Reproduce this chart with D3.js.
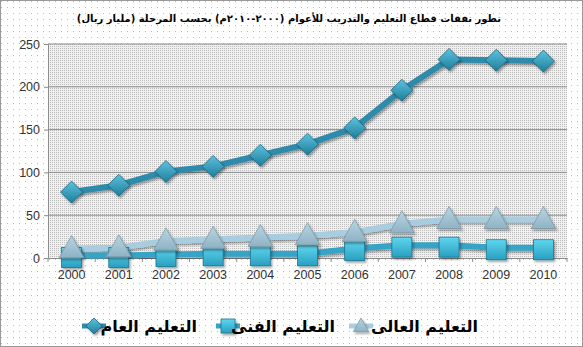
<!DOCTYPE html>
<html><head><meta charset="utf-8">
<script src="https://cdn.jsdelivr.net/npm/d3@7"></script>
<style>body{margin:0;background:#fff}svg{display:block}</style>
</head><body>
<svg id="c" width="583" height="347"></svg>
<script>
const years = ["2000","2001","2002","2003","2004","2005","2006","2007","2008","2009","2010"];
const general = [77, 85, 101, 107, 120, 133, 152, 196, 232, 231, 230];
const technical = [3, 3, 4, 5, 5, 5, 11, 15, 15, 12, 12];
const higher = [11, 12, 20, 22, 24, 26, 30, 40, 45, 45, 45];
const yTicks = [0, 50, 100, 150, 200, 250];
const seriesNames = ["التعليم العام", "التعليم الفنى", "التعليم العالى"];
const title = "تطور نفقات قطاع التعليم والتدريب للأعوام (٢٠٠٠-٢٠١٠م) بحسب المرحلة (مليار ريال)";

const svg = d3.select("#c");
const W = 583, H = 347;
const m = {l: 48, r: 16, t: 44, b: 89};
const defs = svg.append("defs");
const p1 = defs.append("pattern").attr("id","dots").attr("width",6).attr("height",6).attr("patternUnits","userSpaceOnUse");
p1.append("rect").attr("width",6).attr("height",6).attr("fill","#fff");
p1.append("rect").attr("x",1).attr("y",1).attr("width",1).attr("height",1).attr("fill","#bbb");
const p2 = defs.append("pattern").attr("id","dots2").attr("width",2).attr("height",2).attr("patternUnits","userSpaceOnUse");
p2.append("rect").attr("width",2).attr("height",2).attr("fill","#f0f0f0");
p2.append("rect").attr("width",1).attr("height",1).attr("fill","#bdbdbd");

svg.append("rect").attr("x",0.5).attr("y",0.5).attr("width",W-1).attr("height",H-1).attr("fill","url(#dots)").attr("stroke","#999");

const x = d3.scaleBand().domain(years).range([m.l, W - m.r]);
const y = d3.scaleLinear().domain([0,250]).range([H - m.b, m.t]);

svg.append("rect").attr("x",m.l).attr("y",m.t).attr("width",W-m.r-m.l).attr("height",H-m.b-m.t).attr("fill","url(#dots2)");

// grid
svg.append("g").selectAll("line").data(yTicks.filter(d=>d>0)).join("line")
  .attr("x1",m.l).attr("x2",W-m.r).attr("y1",d=>y(d)).attr("y2",d=>y(d))
  .attr("stroke","#8c8c8c").attr("stroke-width",1);

// axes
const ya = svg.append("g").attr("transform",`translate(${m.l},0)`)
  .call(d3.axisLeft(y).tickValues(yTicks).tickSize(4).tickPadding(4));
ya.select(".domain").attr("stroke","#8c8c8c");
ya.selectAll(".tick line").attr("stroke","#8c8c8c");
ya.selectAll("text").attr("font-family","Liberation Sans, Arial, sans-serif").attr("font-size",12.5).attr("fill","#333");

const xa = svg.append("g").attr("transform",`translate(0,${y(0)})`)
  .call(d3.axisBottom(x).tickSize(0).tickPadding(12));
xa.select(".domain").attr("stroke","#8c8c8c");
xa.selectAll("text").attr("font-family","Liberation Sans, Arial, sans-serif").attr("font-size",12.5).attr("fill","#333");
svg.append("g").selectAll("line").data(years.concat(["end"])).join("line")
  .attr("x1",(d,i)=>m.l + i*x.step()).attr("x2",(d,i)=>m.l + i*x.step())
  .attr("y1",y(0)).attr("y2",y(0)+4).attr("stroke","#8c8c8c");

const cx = d => x(d) + x.bandwidth()/2;
const line = d3.line().x((d,i)=>cx(years[i])).y(d=>y(d));

// shadow filter
const f = defs.append("filter").attr("id","sh").attr("x","-30%").attr("y","-30%").attr("width","160%").attr("height","160%");
f.append("feDropShadow").attr("dx",1.5).attr("dy",2).attr("stdDeviation",1.2).attr("flood-color","#000").attr("flood-opacity",0.35);

// higher
svg.append("path").datum(higher).attr("d",line).attr("fill","none").attr("stroke","#a9cde0").attr("stroke-width",6).attr("filter","url(#sh)");
// technical
svg.append("path").datum(technical).attr("d",line).attr("fill","none").attr("stroke","#35a4c6").attr("stroke-width",6).attr("filter","url(#sh)");
// general
svg.append("path").datum(general).attr("d",line).attr("fill","none").attr("stroke","#2f8bab").attr("stroke-width",6).attr("filter","url(#sh)");

// markers
const gDefs = defs.append("linearGradient").attr("id","gd").attr("x1",0).attr("y1",0).attr("x2",0).attr("y2",1);
gDefs.append("stop").attr("offset","0").attr("stop-color","#5cc3dd");
gDefs.append("stop").attr("offset","1").attr("stop-color","#1f7d9c");
const gs = defs.append("linearGradient").attr("id","gs").attr("x1",0).attr("y1",0).attr("x2",0).attr("y2",1);
gs.append("stop").attr("offset","0").attr("stop-color","#5fd6ef");
gs.append("stop").attr("offset","1").attr("stop-color","#2a9fc0");
const gt = defs.append("linearGradient").attr("id","gt").attr("x1",0).attr("y1",0).attr("x2",0).attr("y2",1);
gt.append("stop").attr("offset","0").attr("stop-color","#b8d6e4");
gt.append("stop").attr("offset","1").attr("stop-color","#8fb2c3");

function tri(g, X, Y, s){ g.append("path").attr("d",`M${X},${Y-s}L${X+s*0.95},${Y+s*0.7}L${X-s*0.95},${Y+s*0.7}Z`)
  .attr("fill","url(#gt)").attr("stroke","#7e9aa8").attr("stroke-width",0.8).attr("filter","url(#sh)"); }
function sq(g, X, Y, s){ g.append("rect").attr("x",X-s).attr("y",Y-s).attr("width",2*s).attr("height",2*s)
  .attr("fill","url(#gs)").attr("stroke","#1f7590").attr("stroke-width",0.8).attr("filter","url(#sh)"); }
function dia(g, X, Y, s){ g.append("path").attr("d",`M${X},${Y-s}L${X+s},${Y}L${X},${Y+s}L${X-s},${Y}Z`)
  .attr("fill","url(#gd)").attr("stroke","#1b6680").attr("stroke-width",0.8).attr("filter","url(#sh)"); }

const mk = svg.append("g");
technical.forEach((v,i)=>sq(mk, cx(years[i]), y(v)+2, 10));
higher.forEach((v,i)=>tri(mk, cx(years[i]), y(v), 13));
general.forEach((v,i)=>dia(mk, cx(years[i]), y(v), 11));

// title
svg.append("text").attr("x",289).attr("y",22).attr("text-anchor","middle").attr("direction","rtl")
  .attr("font-family","DejaVu Sans, sans-serif").attr("font-weight","bold").attr("font-size",10).attr("fill","#000")
  .text(title);

// legend
const leg = svg.append("g");
const items = [
  {name: seriesNames[0], tx: 197, mx: 94, color:"#2f8bab", f: dia, s: 8},
  {name: seriesNames[1], tx: 335, mx: 228, color:"#35a4c6", f: sq, s: 7},
  {name: seriesNames[2], tx: 478, mx: 361, color:"#a9cde0", f: tri, s: 8}
];
items.forEach(it=>{
  leg.append("line").attr("x1",it.mx-12).attr("x2",it.mx+12).attr("y1",326).attr("y2",326).attr("stroke",it.color).attr("stroke-width",5);
  it.f(leg, it.mx, 326, it.s);
  leg.append("text").attr("x",it.tx).attr("y",332).attr("text-anchor","start").attr("direction","rtl")
    .attr("font-family","DejaVu Sans, sans-serif").attr("font-weight","bold").attr("font-size",16).attr("fill","#000").text(it.name);
});
</script>
</body></html>
